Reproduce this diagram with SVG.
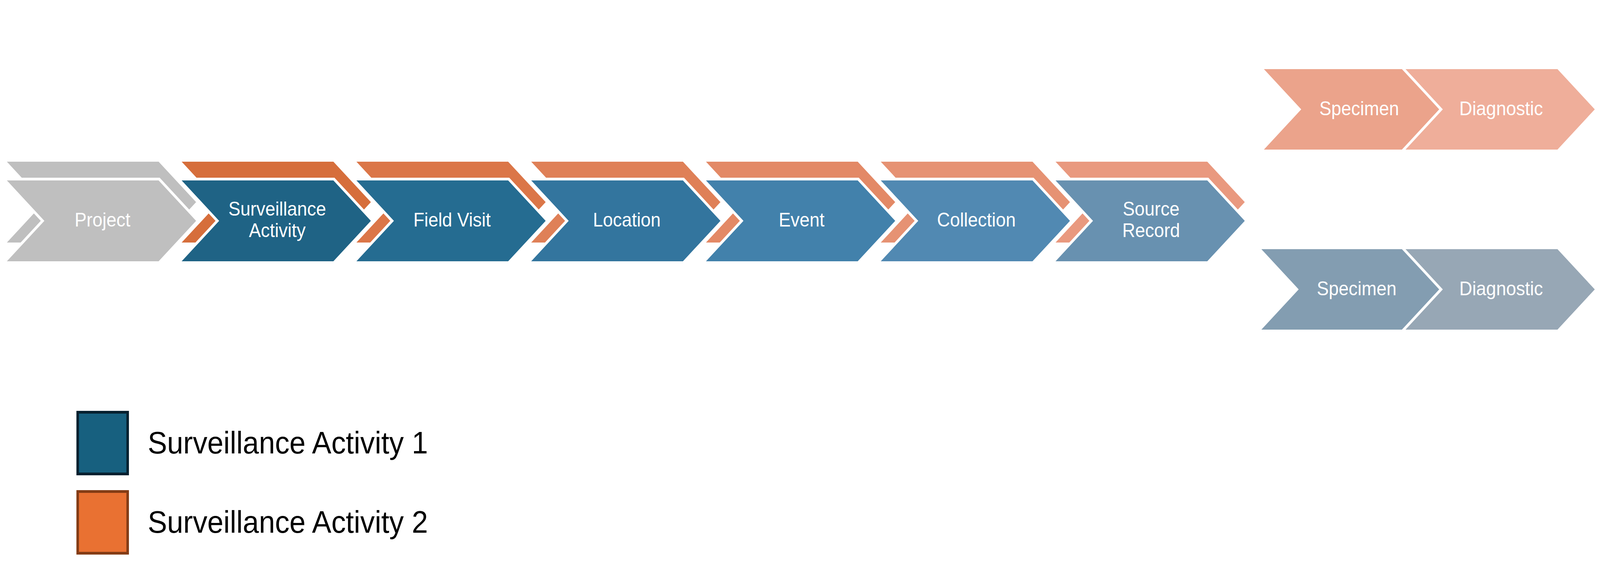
<svg xmlns="http://www.w3.org/2000/svg" width="4418" height="1439" viewBox="0 0 4418 1439" preserveAspectRatio="none" style="width:100vw;height:100vh;display:block">
<style>
.m{stroke:#fff;stroke-width:14;paint-order:stroke;stroke-linejoin:miter;stroke-miterlimit:10}
.t{font-family:"Liberation Sans",Arial,sans-serif;font-size:49.5px;fill:#fff;text-anchor:middle}
.lg{font-family:"Liberation Sans",Arial,sans-serif;font-size:80px;fill:#000}
</style>
<defs>
<polygon id="deco" points="0,414 419,414 522.5,517.5 419,621 0,621 103.5,517.5"/>
<polygon id="main" points="0,462 419,462 522.5,565.5 419,669 0,669 103.5,565.5"/>
</defs>
<rect width="4418" height="1439" fill="#fff"/>
<g id="connectors"></g>
<g id="project" transform="translate(19,0)">
<use href="#deco" fill="#BFBFBF"/>
<use href="#main" class="m" fill="#BFBFBF"/>
<text class="t" x="264" y="580">Project</text>
</g>
<g id="surveillance-activity" transform="translate(501.6,0)">
<use href="#deco" fill="#D66E3B"/>
<use href="#main" class="m" fill="#1F6385"/>
<text class="t" x="264" y="552">Surveillance</text>
<text class="t" x="264" y="607">Activity</text>
</g>
<g id="field-visit" transform="translate(984.2,0)">
<use href="#deco" fill="#DB7648"/>
<use href="#main" class="m" fill="#256C91"/>
<text class="t" x="264" y="580">Field Visit</text>
</g>
<g id="location" transform="translate(1466.8,0)">
<use href="#deco" fill="#DF8057"/>
<use href="#main" class="m" fill="#33759E"/>
<text class="t" x="264" y="580">Location</text>
</g>
<g id="event" transform="translate(1949.4,0)">
<use href="#deco" fill="#E38966"/>
<use href="#main" class="m" fill="#4281AB"/>
<text class="t" x="264" y="580">Event</text>
</g>
<g id="collection" transform="translate(2432,0)">
<use href="#deco" fill="#E69273"/>
<use href="#main" class="m" fill="#5189B2"/>
<text class="t" x="264" y="580">Collection</text>
</g>
<g id="source-record" transform="translate(2914.6,0)">
<use href="#deco" fill="#E9997F"/>
<use href="#main" class="m" fill="#6891B0"/>
<text class="t" x="264" y="552">Source</text>
<text class="t" x="264" y="607">Record</text>
</g>
<g id="specimen-2">
<polygon points="3490,177 3872,177 3975,280 3872,383 3490,383 3593,280" fill="#EBA38B"/>
<text class="t" x="3753" y="295">Specimen</text>
</g>
<g id="diagnostic-2">
<polygon class="m" points="3881,177 4300.6,177 4403.6,280 4300.6,383 3881,383 3984,280" fill="#EFAE9A"/>
<text class="t" x="4145" y="295">Diagnostic</text>
</g>
<g id="specimen-1">
<polygon points="3483,638 3872,638 3975,741 3872,844 3483,844 3586,741" fill="#839DB1"/>
<text class="t" x="3746" y="756">Specimen</text>
</g>
<g id="diagnostic-1">
<polygon class="m" points="3881,638 4300.6,638 4403.6,741 4300.6,844 3881,844 3984,741" fill="#97A7B5"/>
<text class="t" x="4145" y="756">Diagnostic</text>
</g>
<g id="legend">
<rect x="214.5" y="1055.5" width="138" height="158" fill="#17607F" stroke="#06202F" stroke-width="7"/>
<text class="lg" x="408" y="1161">Surveillance Activity 1</text>
<rect x="214.5" y="1258.5" width="138" height="158" fill="#E97132" stroke="#843C15" stroke-width="7"/>
<text class="lg" x="408" y="1364">Surveillance Activity 2</text>
</g>
</svg>
